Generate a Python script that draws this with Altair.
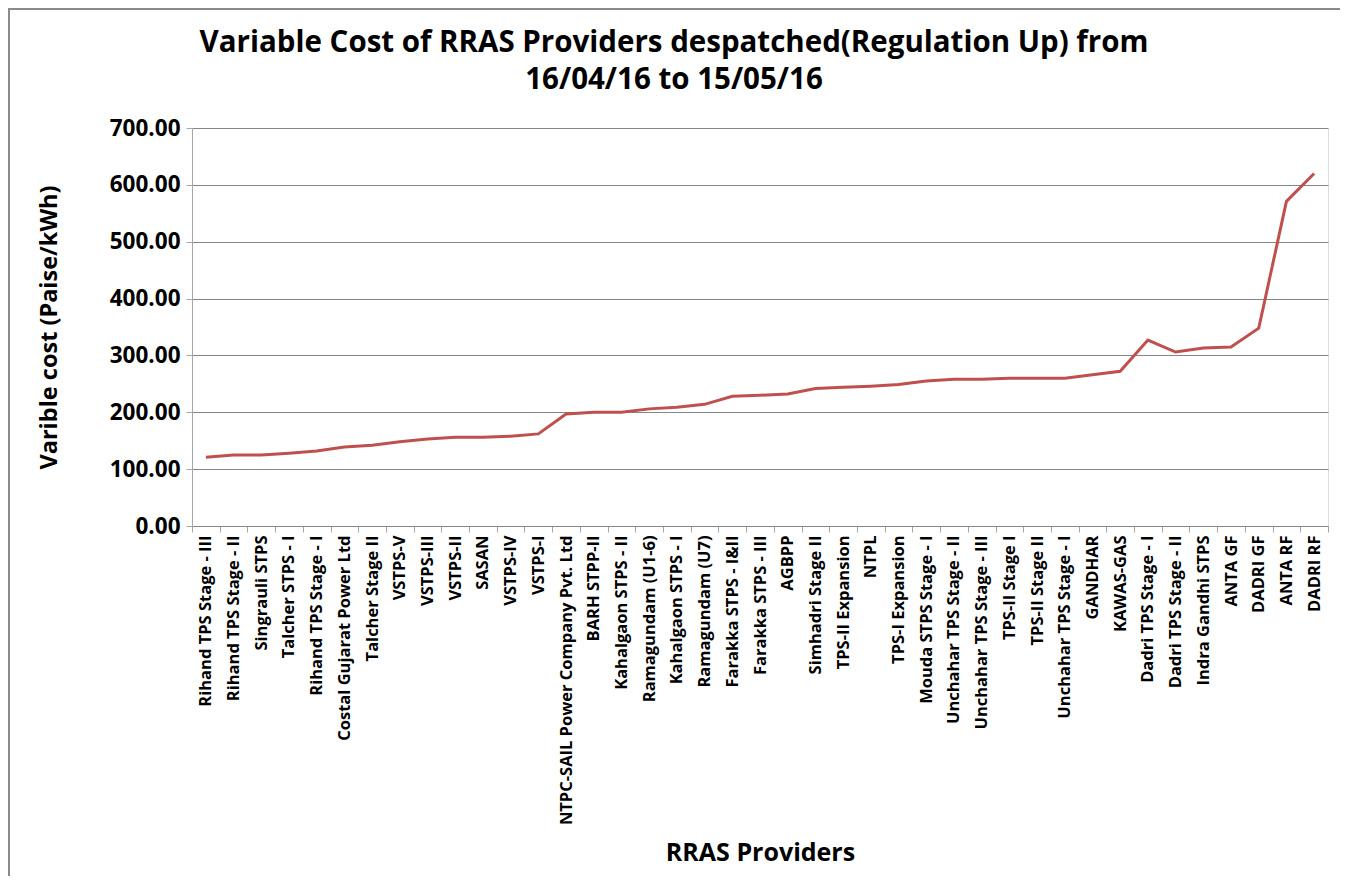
import altair as alt
import pandas as pd

providers = [
    "Rihand TPS Stage - III", "Rihand TPS Stage - II", "Singrauli STPS", "Talcher STPS - I",
    "Rihand TPS Stage - I", "Costal Gujarat Power Ltd", "Talcher  Stage II", "VSTPS-V",
    "VSTPS-III", "VSTPS-II", "SASAN", "VSTPS-IV", "VSTPS-I",
    "NTPC-SAIL Power Company Pvt. Ltd", "BARH STPP-II", "Kahalgaon STPS - II",
    "Ramagundam (U1-6)", "Kahalgaon STPS - I", "Ramagundam (U7)", "Farakka STPS - I&II",
    "Farakka STPS - III", "AGBPP", "Simhadri Stage II", "TPS-II Expansion", "NTPL",
    "TPS-I Expansion", "Mouda STPS Stage - I", "Unchahar TPS Stage - II",
    "Unchahar TPS Stage - III", "TPS-II Stage I", "TPS-II Stage II", "Unchahar TPS Stage - I",
    "GANDHAR", "KAWAS-GAS", "Dadri TPS Stage - I", "Dadri TPS Stage - II",
    "Indra Gandhi STPS", "ANTA GF", "DADRI GF", "ANTA RF", "DADRI RF",
]
costs = [
    121, 125, 125, 128, 132, 139, 142, 148, 153, 156, 156, 158, 162,
    197, 200, 200, 206, 209, 214, 228, 230, 232, 242, 244, 246, 249,
    255, 258, 258, 260, 260, 260, 266, 272, 327, 306, 313, 315, 348, 571, 620,
]

df = pd.DataFrame({"provider": providers, "cost": costs})

FONT = "Open Sans"

line = (
    alt.Chart(df)
    .mark_line(color="#C0504D", strokeWidth=3)
    .encode(
        x=alt.X(
            "provider:N",
            sort=providers,
            scale=alt.Scale(paddingInner=0, paddingOuter=0),
            axis=alt.Axis(
                title="RRAS Providers",
                labelAngle=-90,
                labelFontSize=16.5,
                labelFontWeight="bold",
                labelColor="black",
                labelFont=FONT,
                labelPadding=3,
                labelLimit=400,
                tickBand="extent",
                ticks=True,
                tickSize=6,
                tickColor="#a6a6a6",
                domainColor="#868686",
                grid=False,
                titleFont=FONT,
                titleFontSize=25,
                titleFontWeight="bold",
                titleColor="black",
                titleY=326,
                titleBaseline="middle",
            ),
        ),
        y=alt.Y(
            "cost:Q",
            scale=alt.Scale(domain=[0, 700]),
            axis=alt.Axis(
                title="Varible cost (Paise/kWh)",
                values=[0, 100, 200, 300, 400, 500, 600, 700],
                format=".2f",
                labelFontSize=22.5,
                labelFontWeight="bold",
                labelColor="black",
                labelFont=FONT,
                labelPadding=6,
                tickSize=6,
                tickColor="#a6a6a6",
                domainColor="#a6a6a6",
                gridColor="#868686",
                gridWidth=1,
                titleFont=FONT,
                titleFontSize=23.5,
                titleFontWeight="bold",
                titleColor="black",
                titleX=-143,
                titleBaseline="middle",
            ),
        ),
    )
)

frame_src = pd.DataFrame({"k": [0]})
frame_left = alt.Chart(frame_src).mark_rule(color="#8a8a8a", strokeWidth=2).encode(
    x=alt.value(-183), y=alt.value(-119), y2=alt.value(760)
)
frame_top = alt.Chart(frame_src).mark_rule(color="#8a8a8a", strokeWidth=2).encode(
    x=alt.value(-184), x2=alt.value(1148), y=alt.value(-119)
)

chart = (
    alt.layer(line, frame_left, frame_top)
    .properties(
        width=1136,
        height=398,
        padding={"left": 184, "top": 120, "right": 12, "bottom": 350},
        autosize=alt.AutoSizeParams(type="none"),
        title=alt.TitleParams(
            text=["Variable Cost of RRAS Providers despatched(Regulation Up) from",
                  "16/04/16 to 15/05/16"],
            font=FONT,
            fontSize=29.5,
            fontWeight="bold",
            color="black",
            anchor="middle",
            frame="bounds",
            lineHeight=37,
            offset=-87,
        ),
    )
    .configure_view(stroke=None)
    .configure(background="white")
)

chart.save("out.html", embed_options={"renderer": "svg", "actions": False})
